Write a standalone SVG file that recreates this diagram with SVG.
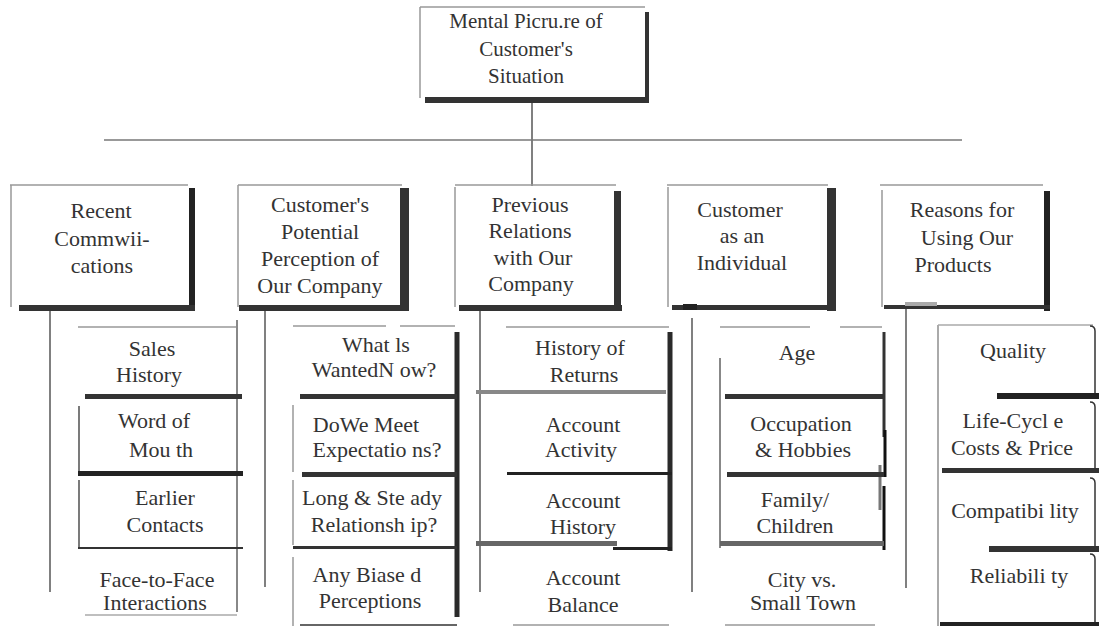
<svg xmlns="http://www.w3.org/2000/svg" width="1099" height="626" viewBox="0 0 1099 626">
<style>
  text { font-family: "Liberation Serif", "Times New Roman", serif; fill: #333; text-anchor: middle; }
  .t1 { font-size: 21px; }
  .t2 { font-size: 22px; }
  .t3 { font-size: 22px; }
  .thin { stroke: #999; stroke-width: 1.5; fill: none; }
  .gray { stroke: #888; stroke-width: 2; fill: none; }
  .dk { stroke: #333; stroke-width: 1.3; fill: none; }
  .bar { fill: #333; }
  .bar2 { fill: #222; }
  .conn { stroke: #808080; stroke-width: 2; fill: none; }
</style>
<rect width="1099" height="626" fill="#fff"/>

<g id="connectors">
  <line class="conn" x1="532" y1="103" x2="532" y2="186" stroke-width="2.5"/>
  <line x1="104" y1="140" x2="962" y2="140" stroke="#777" stroke-width="1.3"/>
  <line class="conn" x1="50" y1="311" x2="50" y2="592"/>
  <line class="conn" x1="265" y1="311" x2="265" y2="587" stroke="#999"/>
  <line class="conn" x1="480" y1="311" x2="480" y2="592"/>
  <line class="conn" x1="692" y1="318" x2="692" y2="592"/>
  <line class="conn" x1="906" y1="303" x2="906" y2="588"/>
</g>

<g id="node-top">
  <line class="thin" x1="420" y1="7" x2="645" y2="7"/>
  <line class="thin" x1="420" y1="7" x2="420" y2="98"/>
  <rect class="bar" x="645" y="12" width="4" height="91" fill="#2b2b2b"/>
  <rect class="bar" x="425" y="97" width="224" height="6"/>
  <text class="t1" x="526" y="28">Mental Picru.re of</text>
  <text class="t1" x="526" y="56">Customer's</text>
  <text class="t1" x="526" y="83">Situation</text>
</g>

<g id="node-recent">
  <line class="thin" x1="10" y1="185" x2="188" y2="185"/>
  <line class="thin" x1="11" y1="185" x2="11" y2="307"/>
  <rect class="bar2" x="189" y="188" width="6" height="123" fill="#111"/>
  <rect class="bar" x="19" y="305" width="176" height="6"/>
  <text class="t2" x="101" y="218">Recent</text>
  <text class="t2" x="102" y="246">Commwii-</text>
  <text class="t2" x="102" y="273">cations</text>
</g>

<g id="node-perception">
  <line class="thin" x1="238" y1="185" x2="402" y2="185"/>
  <line class="thin" x1="238" y1="185" x2="238" y2="307"/>
  <rect class="bar" x="400" y="188" width="9" height="123" fill="#2a2a2a"/>
  <rect class="bar" x="239" y="305" width="170" height="6"/>
  <text class="t2" x="320" y="212">Customer's</text>
  <text class="t2" x="320" y="239">Potential</text>
  <text class="t2" x="320" y="266">Perception of</text>
  <text class="t2" x="320" y="293">Our Company</text>
</g>

<g id="node-previous">
  <line class="thin" x1="455" y1="185" x2="616" y2="185"/>
  <line class="thin" x1="455" y1="187" x2="455" y2="307"/>
  <rect class="bar" x="614" y="191" width="7" height="120"/>
  <rect class="bar" x="459" y="305" width="163" height="6"/>
  <text class="t2" x="530" y="212">Previous</text>
  <text class="t2" x="530" y="238">Relations</text>
  <text class="t2" x="533" y="265">with Our</text>
  <text class="t2" x="531" y="291">Company</text>
</g>

<g id="node-individual">
  <line class="thin" x1="667" y1="185" x2="828" y2="185"/>
  <line class="thin" x1="668" y1="187" x2="668" y2="307"/>
  <rect class="bar" x="827" y="188" width="9" height="123"/>
  <rect class="bar" x="672" y="305" width="164" height="5"/>
  <rect class="bar2" x="683" y="304" width="14" height="6"/>
  <text class="t2" x="740" y="217">Customer</text>
  <text class="t2" x="742" y="243">as an</text>
  <text class="t2" x="742" y="270">Individual</text>
</g>

<g id="node-reasons">
  <line class="thin" x1="880" y1="185" x2="1043" y2="185"/>
  <line class="thin" x1="882" y1="190" x2="882" y2="307" stroke="#bbb"/>
  <rect class="bar2" x="1044" y="191" width="6" height="120" fill="#111"/>
  <rect class="bar" x="884" y="305" width="166" height="4"/>
  <rect x="905" y="302" width="32" height="4" fill="#aaa"/>
  <text class="t2" x="962" y="217">Reasons for</text>
  <text class="t2" x="967" y="245">Using Our</text>
  <text class="t2" x="953" y="272">Products</text>
</g>

<g id="col-recent">
  <line class="thin" x1="78" y1="327" x2="237" y2="327"/>
  <line class="gray" x1="237" y1="320" x2="237" y2="612" stroke-width="2.5"/>
  <rect class="bar" x="85" y="394" width="157" height="5"/>
  <line class="dk" x1="79" y1="406" x2="79" y2="472"/>
  <rect class="bar2" x="78" y="471" width="165" height="5"/>
  <line class="dk" x1="79" y1="480" x2="79" y2="548"/>
  <line x1="78" y1="548" x2="243" y2="548" stroke="#333" stroke-width="2"/>
  <line x1="85" y1="615" x2="237" y2="615" stroke="#aaa" stroke-width="1.5"/>
  <text class="t3" x="152" y="356">Sales</text>
  <text class="t3" x="149" y="382">History</text>
  <text class="t3" x="154" y="428">Word of</text>
  <text class="t3" x="161" y="457">Mou th</text>
  <text class="t3" x="165" y="505">Earlier</text>
  <text class="t3" x="165" y="532">Contacts</text>
  <text class="t3" x="157" y="587">Face-to-Face</text>
  <text class="t3" x="155" y="610">Interactions</text>
</g>

<g id="col-perception">
  <line class="thin" x1="293" y1="326" x2="386" y2="326"/>
  <line class="thin" x1="400" y1="326" x2="455" y2="326"/>
  <line x1="457" y1="332" x2="457" y2="617" stroke="#2a2a2a" stroke-width="5"/>
  <rect class="bar" x="300" y="394" width="157" height="5"/>
  <line class="thin" x1="293" y1="405" x2="293" y2="472" stroke="#aaa"/>
  <rect class="bar" x="302" y="472" width="155" height="5"/>
  <line class="thin" x1="293" y1="480" x2="293" y2="545" stroke="#aaa"/>
  <rect class="bar" x="293" y="546" width="164" height="3"/>
  <line class="thin" x1="293" y1="557" x2="293" y2="626" stroke="#aaa"/>
  <line x1="300" y1="625" x2="457" y2="625" stroke="#333" stroke-width="1.5"/>
  <text class="t3" x="376" y="352">What ls</text>
  <text class="t3" x="374" y="377">WantedN ow?</text>
  <text class="t3" x="366" y="432">DoWe Meet</text>
  <text class="t3" x="377" y="457">Expectatio ns?</text>
  <text class="t3" x="372" y="505">Long &amp; Ste ady</text>
  <text class="t3" x="374" y="532">Relationsh ip?</text>
  <text class="t3" x="367" y="582">Any Biase d</text>
  <text class="t3" x="370" y="608">Perceptions</text>
</g>

<g id="col-previous">
  <line class="thin" x1="506" y1="327" x2="669" y2="327"/>
  <line x1="670" y1="332" x2="670" y2="551" stroke="#2a2a2a" stroke-width="5"/>
  <rect x="476" y="390" width="190" height="4" fill="#888"/>
  <rect class="bar2" x="507" y="472" width="165" height="3"/>
  <rect x="476" y="541" width="141" height="5" fill="#666"/>
  <rect class="bar2" x="613" y="547" width="59" height="3"/>
  <line class="thin" x1="513" y1="625" x2="669" y2="625"/>
  <text class="t3" x="580" y="355">History of</text>
  <text class="t3" x="584" y="382">Returns</text>
  <text class="t3" x="583" y="432">Account</text>
  <text class="t3" x="581" y="457">Activity</text>
  <text class="t3" x="583" y="508">Account</text>
  <text class="t3" x="583" y="534">History</text>
  <text class="t3" x="583" y="585">Account</text>
  <text class="t3" x="583" y="612">Balance</text>
</g>

<g id="col-individual">
  <line class="thin" x1="720" y1="327" x2="810" y2="327"/>
  <line class="thin" x1="840" y1="327" x2="882" y2="327"/>
  <line x1="884" y1="332" x2="884" y2="437" stroke="#333" stroke-width="3"/>
  <line x1="885" y1="430" x2="885" y2="477" stroke="#111" stroke-width="3"/>
  <line x1="880" y1="465" x2="880" y2="510" stroke="#777" stroke-width="3"/>
  <line x1="884" y1="486" x2="884" y2="550" stroke="#111" stroke-width="3"/>
  <line class="gray" x1="720" y1="358" x2="720" y2="548"/>
  <rect class="bar" x="725" y="394" width="159" height="5"/>
  <rect class="bar" x="727" y="472" width="157" height="5"/>
  <rect x="720" y="541" width="164" height="5" fill="#666"/>
  <line class="thin" x1="725" y1="625" x2="875" y2="625"/>
  <text class="t3" x="797" y="360">Age</text>
  <text class="t3" x="801" y="431">Occupation</text>
  <text class="t3" x="803" y="457">&amp; Hobbies</text>
  <text class="t3" x="795" y="507">Family/</text>
  <text class="t3" x="795" y="533">Children</text>
  <text class="t3" x="802" y="587">City vs.</text>
  <text class="t3" x="803" y="610">Small Town</text>
</g>

<g id="col-reasons">
  <line x1="938" y1="325" x2="938" y2="626" stroke="#aaa" stroke-width="2"/>
  <line x1="938" y1="325" x2="1093" y2="325" stroke="#aaa" stroke-width="1.5"/>
  <path d="M1090 326 Q1095 326 1095 331 V394 M1090 402 Q1095 402 1095 407 V468 M1090 478 Q1095 478 1095 483 V546 M1090 554 Q1095 554 1095 559 V622" stroke="#333" stroke-width="1.5" fill="none"/>
  <rect class="bar2" x="997" y="393" width="102" height="6"/>
  <rect class="bar" x="942" y="468" width="157" height="5"/>
  <rect class="bar" x="989" y="546" width="110" height="6" fill="#2a2a2a"/>
  <rect class="bar2" x="940" y="622" width="159" height="4"/>
  <text class="t3" x="1013" y="358">Quality</text>
  <text class="t3" x="1013" y="428">Life-Cycl e</text>
  <text class="t3" x="1012" y="455">Costs &amp; Price</text>
  <text class="t3" x="1015" y="518">Compatibi lity</text>
  <text class="t3" x="1019" y="583">Reliabili ty</text>
</g>
</svg>
